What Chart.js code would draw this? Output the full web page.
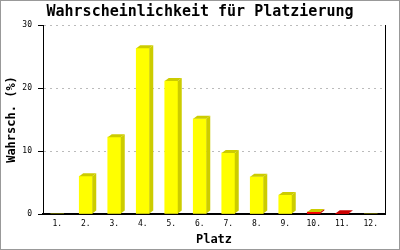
<!DOCTYPE html>
<html>
<head>
<meta charset="utf-8">
<script src="https://cdn.jsdelivr.net/npm/chart.js@4.4.1/dist/chart.umd.min.js"></script>
<style>
  html, body { margin: 0; padding: 0; background: #fff; }
</style>
</head>
<body>
<canvas id="placementChart" width="400" height="250"></canvas>
<script>
const PLACES = ['1.', '2.', '3.', '4.', '5.', '6.', '7.', '8.', '9.', '10.', '11.', '12.'];
const PROBABILITIES = [0, 6.0, 12.2, 26.3, 21.1, 15.1, 9.7, 5.9, 3.0, 0.3, 0.1, 0];
const Y_TICKS = [0, 10, 20, 30];

const MONO = "'DejaVu Sans Mono', 'Liberation Mono', monospace";

// front / top / side colours per bar (10. and 11. are red in the original)
const FRONT_COLORS = ['#ffff00', '#ffff00', '#ffff00', '#ffff00', '#ffff00', '#ffff00',
    '#ffff00', '#ffff00', '#ffff00', '#ff0000', '#ff0000', '#ffff00'];
const TOP_COLORS = ['#cccc00', '#cccc00', '#cccc00', '#cccc00', '#cccc00', '#cccc00',
    '#cccc00', '#cccc00', '#cccc00', '#cccc00', '#cc0000', '#cccc00'];
const SIDE_COLORS = ['#cccc00', '#cccc00', '#cccc00', '#cccc00', '#cccc00', '#cccc00',
    '#cccc00', '#cccc00', '#cccc00', '#cc0000', '#cc0000', '#cccc00'];

const DEPTH_X = 4;
const DEPTH_Y = 3;

function fillPoly(ctx, pts, color) {
    ctx.fillStyle = color;
    ctx.beginPath();
    ctx.moveTo(pts[0][0], pts[0][1]);
    for (let i = 1; i < pts.length; i++) ctx.lineTo(pts[i][0], pts[i][1]);
    ctx.closePath();
    ctx.fill();
}

// draws the fake 3d top and right side of each bar
const bar3dPlugin = {
    id: 'bar3d',
    afterDatasetsDraw(chart) {
        const ctx = chart.ctx;
        const meta = chart.getDatasetMeta(0);
        ctx.save();
        meta.data.forEach((bar, i) => {
            if (!PROBABILITIES[i]) return;
            const { x, y, base, width } = bar.getProps(['x', 'y', 'base', 'width'], true);
            const l = x - width / 2;
            const r = x + width / 2;
            fillPoly(ctx, [[r, y], [r + DEPTH_X, y - DEPTH_Y], [r + DEPTH_X, base - DEPTH_Y], [r, base]], SIDE_COLORS[i]);
            fillPoly(ctx, [[l, y], [l + DEPTH_X, y - DEPTH_Y], [r + DEPTH_X, y - DEPTH_Y], [r, y]], TOP_COLORS[i]);
        });
        ctx.restore();
    }
};

// white background and the grey frame round the image
const framePlugin = {
    id: 'frame',
    beforeDraw(chart) {
        const ctx = chart.ctx;
        ctx.save();
        ctx.fillStyle = '#fff';
        ctx.fillRect(0, 0, chart.width, chart.height);
        ctx.restore();
    },
    afterDraw(chart) {
        const ctx = chart.ctx;
        ctx.save();
        ctx.strokeStyle = '#999';
        ctx.lineWidth = 1;
        ctx.strokeRect(0.5, 0.5, chart.width - 1, chart.height - 1);
        ctx.restore();
    }
};

new Chart(document.getElementById('placementChart'), {
    type: 'bar',
    data: {
        labels: PLACES,
        datasets: [{
            data: PROBABILITIES,
            backgroundColor: FRONT_COLORS,
            borderWidth: 0,
            barThickness: 13
        }]
    },
    options: {
        responsive: false,
        animation: false,
        devicePixelRatio: 1,
        layout: { padding: 0 },
        plugins: {
            legend: { display: false },
            tooltip: { enabled: false },
            title: {
                display: true,
                text: 'Wahrscheinlichkeit für Platzierung',
                color: '#000',
                font: { family: MONO, size: 15, weight: 'bold' },
                padding: { top: 3, bottom: 4 }
            }
        },
        scales: {
            x: {
                z: 1,
                grid: { display: false, drawTicks: false },
                border: { display: true, color: '#000', width: 2 },
                ticks: { color: '#000', padding: 5, font: { family: MONO, size: 8 } },
                title: {
                    display: true,
                    text: 'Platz',
                    color: '#000',
                    font: { family: MONO, size: 12, weight: 'bold' },
                    padding: { top: 0, bottom: 3 }
                },
                afterFit: (scale) => { scale.height = 36; }
            },
            y: {
                min: Y_TICKS[0],
                max: Y_TICKS[Y_TICKS.length - 1],
                afterBuildTicks: (scale) => { scale.ticks = Y_TICKS.map(v => ({ value: v })); },
                grid: {
                    color: '#bbbbbb',
                    lineWidth: 1,
                    drawTicks: true,
                    tickLength: 5,
                    tickColor: '#000',
                    tickWidth: 1,
                    tickBorderDash: []
                },
                border: { display: true, color: '#000', width: 1, dash: [2, 4] },
                ticks: { color: '#000', padding: 6, font: { family: MONO, size: 8 } },
                title: {
                    display: true,
                    text: 'Wahrsch. (%)',
                    color: '#000',
                    font: { family: MONO, size: 12, weight: 'bold' },
                    padding: { top: 5, bottom: 0 }
                },
                afterFit: (scale) => { scale.width = 43; }
            },
            // empty right axis: only its border line, closes the plot on the right
            yRight: {
                position: 'right',
                min: Y_TICKS[0],
                max: Y_TICKS[Y_TICKS.length - 1],
                grid: { display: false, drawTicks: false },
                border: { display: true, color: '#000', width: 1 },
                ticks: { display: false },
                afterFit: (scale) => { scale.width = 15; }
            }
        }
    },
    plugins: [bar3dPlugin, framePlugin]
});
</script>
</body>
</html>
